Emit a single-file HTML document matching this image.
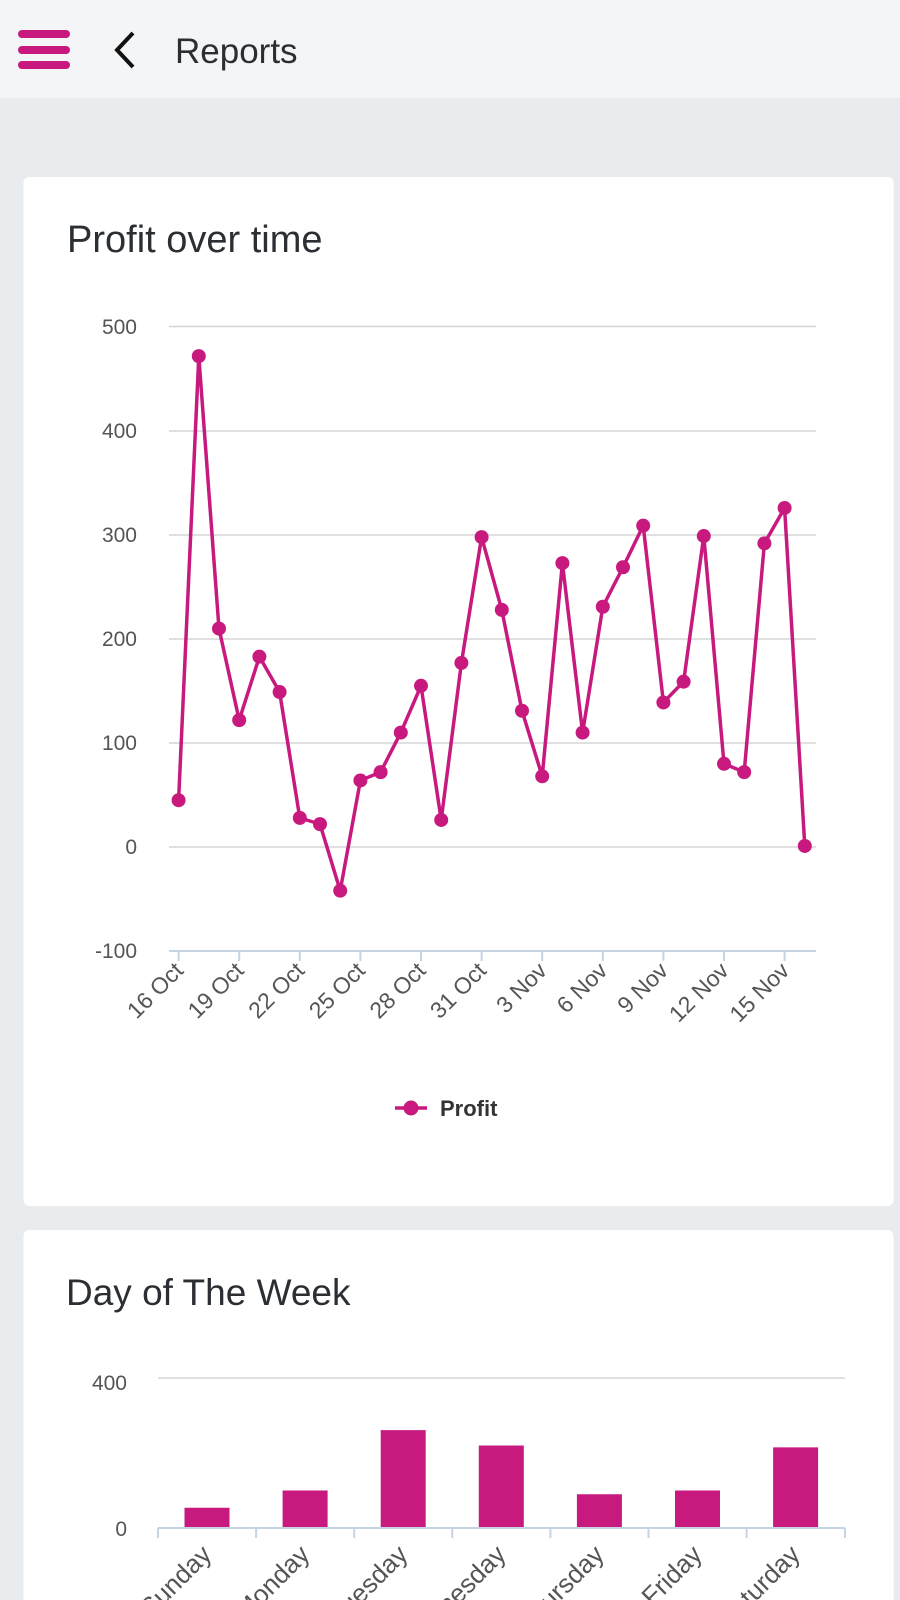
<!DOCTYPE html>
<html><head><meta charset="utf-8"><style>
html,body{margin:0;padding:0;width:900px;height:1600px;overflow:hidden;background:#e9ecef;font-family:"Liberation Sans",sans-serif}
</style></head><body>
<svg width="900" height="1600" viewBox="0 0 900 1600" xmlns="http://www.w3.org/2000/svg" font-family="Liberation Sans, sans-serif">
<rect x="0" y="0" width="900" height="98" fill="#f4f5f7"/>
<g stroke="#c8197f" stroke-width="8" stroke-linecap="round">
<line x1="22" y1="34" x2="66" y2="34"/><line x1="22" y1="50" x2="66" y2="50"/><line x1="22" y1="65" x2="66" y2="65"/></g>
<polyline points="133,33 117,50 133,67" fill="none" stroke="#111" stroke-width="4"/>
<text x="175" y="63" font-size="35" fill="#2b2f33">Reports</text>

<rect x="23.5" y="177" width="870" height="1029" rx="6" fill="#fff"/>
<text x="67" y="252" font-size="38" fill="#2b2f33">Profit over time</text>
<g stroke="#d5d5d5" stroke-width="1.5">
<line x1="169" y1="326.5" x2="816" y2="326.5"/><line x1="169" y1="431" x2="816" y2="431"/><line x1="169" y1="535" x2="816" y2="535"/><line x1="169" y1="639" x2="816" y2="639"/><line x1="169" y1="743" x2="816" y2="743"/><line x1="169" y1="847" x2="816" y2="847"/></g>
<line x1="169" y1="951" x2="816" y2="951" stroke="#c5d3e2" stroke-width="2"/>
<g font-size="21" fill="#555" text-anchor="end">
<text x="137" y="334">500</text><text x="137" y="438">400</text><text x="137" y="542">300</text><text x="137" y="646">200</text><text x="137" y="750">100</text><text x="137" y="854">0</text><text x="137" y="958">-100</text></g>
<g id="ticks" stroke="#c5d3e2" stroke-width="2"></g>
<g id="xl" font-size="23" fill="#555" text-anchor="end"></g>
<polyline id="line" fill="none" stroke="#c8197f" stroke-width="3.5" stroke-linejoin="round"/>
<g id="dots" fill="#c8197f"></g>
<line x1="395" y1="1108" x2="427" y2="1108" stroke="#c8197f" stroke-width="3.5"/>
<circle cx="411" cy="1108" r="7.5" fill="#c8197f"/>
<text x="440" y="1116" font-size="22" font-weight="bold" fill="#333">Profit</text>

<rect x="23.5" y="1230" width="870" height="400" rx="6" fill="#fff"/>
<text x="66" y="1305" font-size="37" fill="#2b2f33">Day of The Week</text>
<line x1="158" y1="1378" x2="845" y2="1378" stroke="#d5d5d5" stroke-width="1.5"/>
<text x="127" y="1390" font-size="21" fill="#555" text-anchor="end">400</text>
<text x="127" y="1536" font-size="21" fill="#555" text-anchor="end">0</text>
<g id="bars"></g>
<line x1="158" y1="1528" x2="845" y2="1528" stroke="#c5d3e2" stroke-width="2"/>
<g id="bt" stroke="#c5d3e2" stroke-width="2"></g>
<g id="bl" font-size="26" fill="#555" text-anchor="end"></g>
</svg>
<script>
var NS="http://www.w3.org/2000/svg";
function el(t,a,p,txt){var e=document.createElementNS(NS,t);for(var k in a)e.setAttribute(k,a[k]);if(txt)e.textContent=txt;document.getElementById(p).appendChild(e);}
var v=[45,472,210,122,183,149,28,22,-42,64,72,110,155,26,177,298,228,131,68,273,110,231,269,309,139,159,299,80,72,292,326,1];
var pts=[];
v.forEach(function(d,i){var x=178.6+i*20.2,y=847-d*1.04;pts.push(x+","+y);el("circle",{cx:x,cy:y,r:7},"dots");});
document.getElementById("line").setAttribute("points",pts.join(" "));
var lab=["16 Oct","19 Oct","22 Oct","25 Oct","28 Oct","31 Oct","3 Nov","6 Nov","9 Nov","12 Nov","15 Nov"];
lab.forEach(function(l,i){var x=178.6+i*3*20.2;el("line",{x1:x,y1:951,x2:x,y2:961},"ticks");
el("text",{x:x+6,y:972,transform:"rotate(-45 "+(x+6)+" 972)"},"xl",l);});
var b=[54,100,261,220,90,100,215],days=["Sunday","Monday","Tuesday","Wednesday","Thursday","Friday","Saturday"];
for(var i=0;i<7;i++){var c=207+i*98.1,h=b[i]*150/400;
el("rect",{x:c-22.5,y:1528-h,width:45,height:h,fill:"#c8197f"},"bars");
el("line",{x1:158+i*98.1,y1:1528,x2:158+i*98.1,y2:1538},"bt");
el("text",{x:c+6,y:1556,transform:"rotate(-45 "+(c+6)+" 1556)"},"bl",days[i]);}
el("line",{x1:845,y1:1528,x2:845,y2:1538},"bt");
</script>
</body></html>
